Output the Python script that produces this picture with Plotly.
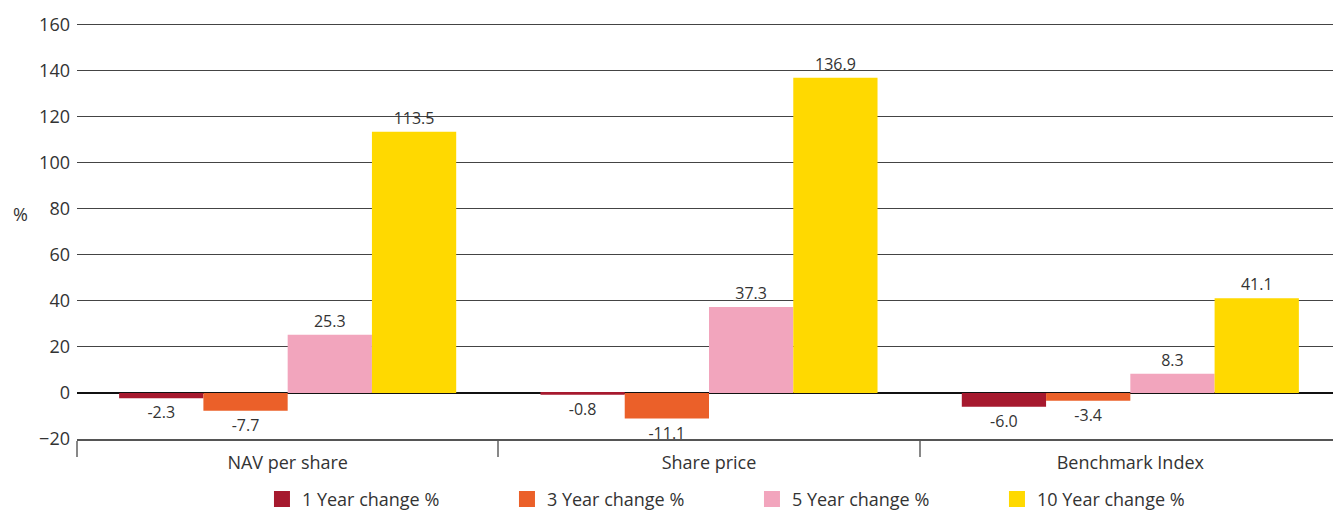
import plotly.graph_objects as go

categories = ["NAV per share", "Share price", "Benchmark Index"]
series_names = ["1 Year change %", "3 Year change %", "5 Year change %", "10 Year change %"]
one_year = [-2.3, -0.8, -6.0]
three_year = [-7.7, -11.1, -3.4]
five_year = [25.3, 37.3, 8.3]
ten_year = [113.5, 136.9, 41.1]
colors = ["#A6192E", "#EB6029", "#F2A5BD", "#FFD900"]

fig = go.Figure()

for name, vals, col in zip(series_names, [one_year, three_year, five_year, ten_year], colors):
    fig.add_trace(go.Bar(
        x=categories, y=vals, name=name, marker=dict(color=col, line=dict(width=0)),
        text=[f"{v:.1f}" for v in vals], textposition="outside",
        textfont=dict(size=16, color="#333"), cliponaxis=False, showlegend=False,
    ))

# legend entries with bigger square swatches
for name, col in zip(series_names, colors):
    fig.add_trace(go.Scatter(
        x=[None], y=[None], mode="markers", name=name,
        marker=dict(symbol="square", size=22, color=col),
    ))

# page body has an 8px margin, so the figure is sized/offset to compensate
fig.update_layout(
    width=1333, height=503,
    barmode="group", bargap=0.2, bargroupgap=0,
    plot_bgcolor="white", paper_bgcolor="white",
    font=dict(family="Open Sans", size=17, color="#333"),
    margin=dict(l=69, r=0, t=12, b=72, autoexpand=False),
    legend=dict(orientation="h", x=0.534, xanchor="center", y=-0.144, yanchor="middle",
                font=dict(size=18), entrywidth=200, traceorder="normal"),
)
fig.update_yaxes(range=[-20, 162], tickvals=[-20, 0, 20, 40, 60, 80, 100, 120, 140, 160],
                 showgrid=True, gridcolor="#444", gridwidth=1,
                 zeroline=True, zerolinecolor="#111", zerolinewidth=2,
                 ticks="", ticklabelstandoff=6, tickfont=dict(size=18))
fig.update_xaxes(showline=True, linecolor="#555", linewidth=2, ticks="outside", tickson="boundaries",
                 ticklen=16, tickcolor="#888", tickwidth=1.5, tickfont=dict(size=18),
                 ticklabelstandoff=6)
fig.add_annotation(text="%", xref="paper", yref="paper", x=-0.045, y=(431 - 206) / 419,
                   xanchor="center", yanchor="middle", showarrow=False,
                   font=dict(size=18, color="#333"))

fig.write_html("out.html")
